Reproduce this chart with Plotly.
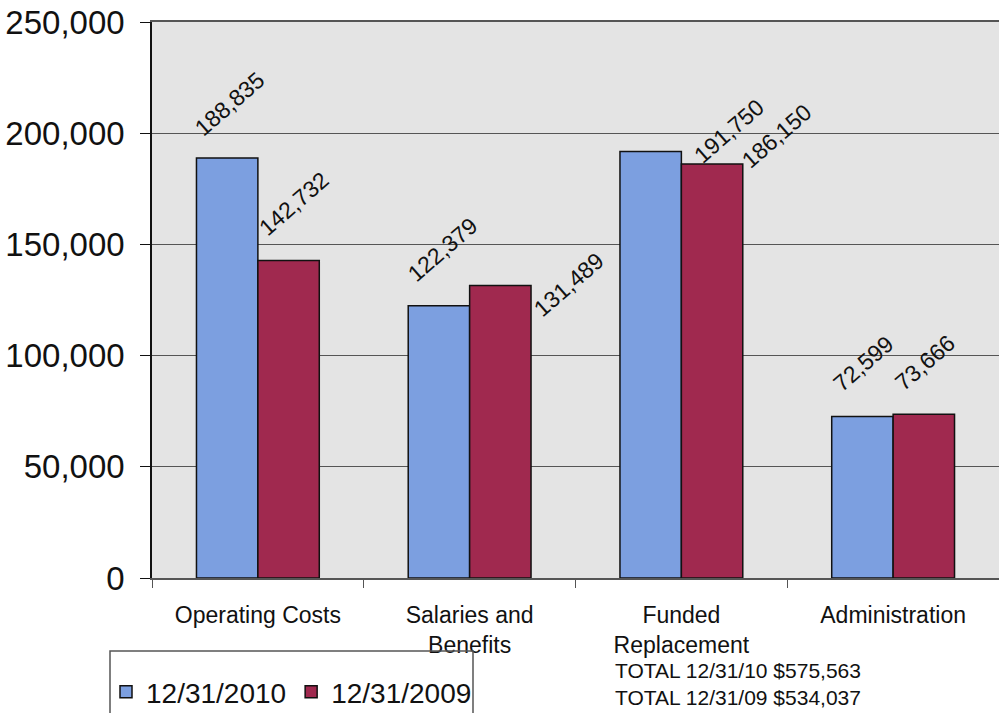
import plotly.graph_objects as go

categories = ["Operating Costs", "Salaries and<br>Benefits", "Funded<br>Replacement", "Administration"]
series_names = ["12/31/2010", "12/31/2009"]
values_2010 = [188835, 122379, 191750, 72599]
values_2009 = [142732, 131489, 186150, 73666]
tick_vals = [0, 50000, 100000, 150000, 200000, 250000]
tick_text = ["0", "50,000", "100,000", "150,000", "200,000", "250,000"]
totals = ["TOTAL 12/31/10 $575,563", "TOTAL 12/31/09 $534,037"]

# label centre offsets (px) relative to top-centre of each bar
label_off_2010 = [(2, 54), (3, 56), (78, 21), (0, 53)]
label_off_2009 = [(5, 57), (68, 1), (65, 28), (1, 51)]

colors = ["#7c9fe0", "#a0294f"]
FONT = "Liberation Sans, Arial, sans-serif"

# plot area pixel geometry helpers
L, R, T, B = 152, 999, 22, 578
def px_x(p):
    return (p - L) / (R - L)
def px_y(p):
    return (B - p) / (B - T)

fig = go.Figure()
for name, vals, col in zip(series_names, [values_2010, values_2009], colors):
    fig.add_trace(go.Bar(
        x=categories, y=vals, name=name,
        marker=dict(color=col, line=dict(color="#111111", width=1.5)),
    ))

annotations = []
for vals, offs, bshift in [(values_2010, label_off_2010, -30.5), (values_2009, label_off_2009, 30.5)]:
    for c, v, (dx, dy) in zip(categories, vals, offs):
        annotations.append(dict(
            x=c, y=v, xref="x", yref="y", text=f"{v:,}", showarrow=False,
            textangle=-41, xanchor="center", yanchor="middle",
            xshift=bshift + dx, yshift=dy,
            font=dict(family=FONT, size=23, color="#111111"),
        ))

annotations.append(dict(
    x=px_x(613), y=px_y(684), xref="paper", yref="paper",
    text="<br>".join(totals), showarrow=False, align="left",
    xanchor="left", yanchor="middle",
    font=dict(family=FONT, size=21, color="#111111"),
))

shapes = [dict(
    type="rect", xref="paper", yref="paper",
    x0=px_x(110), x1=px_x(473), y0=px_y(651), y1=px_y(730),
    line=dict(color="#555555", width=1.5), fillcolor="rgba(0,0,0,0)",
)]

fig.update_layout(
    width=999, height=713,
    margin=dict(l=L, r=0, t=T, b=713 - B, autoexpand=False),
    paper_bgcolor="white",
    plot_bgcolor="#e4e4e4",
    barmode="group", bargap=0.42, bargroupgap=0,
    font=dict(family=FONT, color="#111111"),
    annotations=annotations,
    shapes=shapes,
    showlegend=True,
    legend=dict(
        orientation="h", x=px_x(106), y=px_y(692), xanchor="left", yanchor="middle",
        font=dict(family=FONT, size=28, color="#111111"),
        borderwidth=0, bgcolor="rgba(255,255,255,0)",
        itemwidth=30,
    ),
    xaxis=dict(
        showgrid=False, showline=True, mirror=True, linecolor="#555555", linewidth=1.5,
        ticks="outside", ticklen=8, tickcolor="#555555", tickson="boundaries",
        tickfont=dict(family=FONT, size=23, color="#111111"),
        ticklabelstandoff=16,
    ),
    yaxis=dict(
        range=[0, 250000], tickvals=tick_vals, ticktext=tick_text,
        showgrid=True, gridcolor="#555555", gridwidth=1,
        showline=True, linecolor="#111111", linewidth=1.5,
        ticks="outside", ticklen=10, tickcolor="#111111",
        tickfont=dict(family=FONT, size=33, color="#111111"),
        zeroline=False, ticklabelstandoff=9,
    ),
)

fig.write_html("out.html")
